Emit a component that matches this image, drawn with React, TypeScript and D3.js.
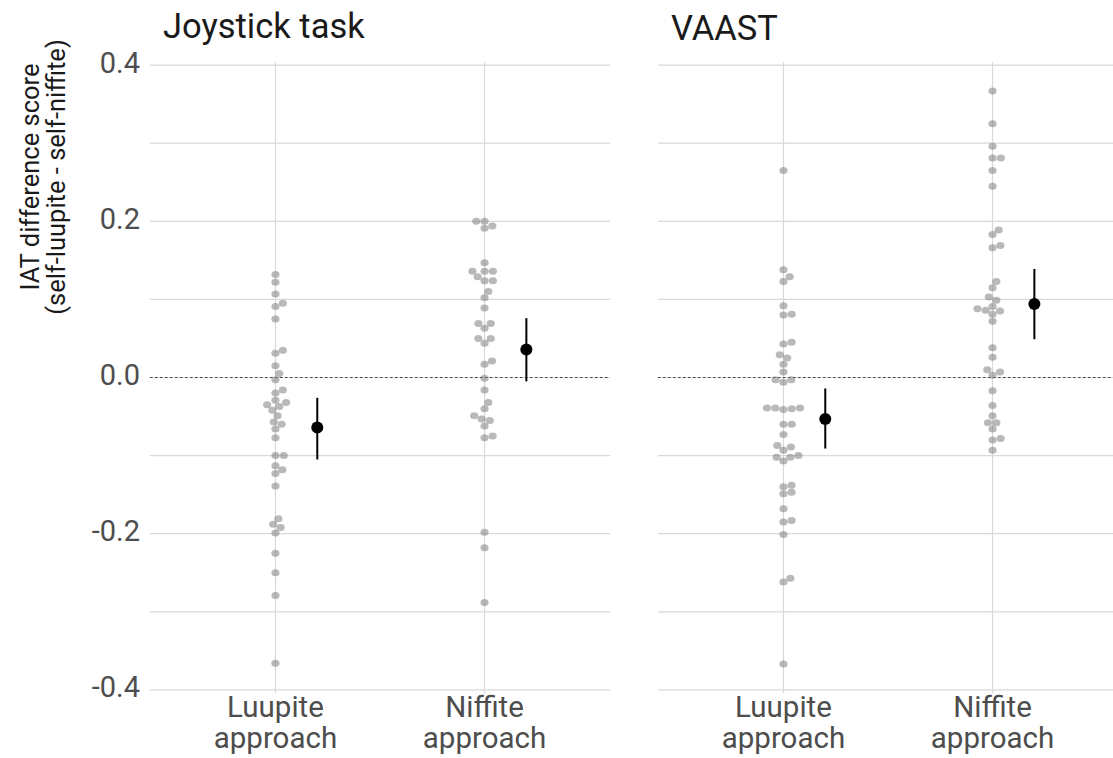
import React, { useEffect, useRef } from 'react'
import * as d3 from 'd3'

// categories / labels
const groups = ["Luupite approach", "Niffite approach"]
const panelTitles = ["Joystick task", "VAAST"]
const yTicks = [0.4, 0.2, 0.0, -0.2, -0.4]
const yMinorTicks = [0.3, 0.1, -0.1, -0.3]
const yTitle = ["IAT difference score", "(self-luupite - self-niffite)"]

// individual IAT scores
const joyLuupite = [0.132, 0.122, 0.107, 0.095, 0.091, 0.075, 0.035, 0.031, 0.015, 0.005, -0.003, -0.016, -0.020,
    -0.029, -0.032, -0.035, -0.037, -0.042, -0.049, -0.057, -0.060, -0.066, -0.077, -0.100, -0.100, -0.113, -0.118,
    -0.123, -0.139, -0.181, -0.188, -0.192, -0.199, -0.225, -0.250, -0.279, -0.366]
const joyNiffite = [0.200, 0.200, 0.194, 0.191, 0.147, 0.136, 0.136, 0.136, 0.129, 0.124, 0.124, 0.110, 0.102,
    0.089, 0.069, 0.069, 0.063, 0.050, 0.050, 0.044, 0.021, 0.017, -0.001, -0.016, -0.032, -0.040, -0.049, -0.053,
    -0.055, -0.062, -0.075, -0.077, -0.198, -0.218, -0.288]
const vaastLuupite = [0.265, 0.138, 0.129, 0.123, 0.092, 0.081, 0.080, 0.045, 0.043, 0.029, 0.025, 0.017, 0.007,
    -0.003, -0.003, -0.006, -0.039, -0.039, -0.039, -0.040, -0.041, -0.060, -0.060, -0.073, -0.087, -0.089, -0.093,
    -0.100, -0.102, -0.102, -0.107, -0.138, -0.140, -0.147, -0.149, -0.168, -0.183, -0.185, -0.201, -0.257, -0.262, -0.367]
const vaastNiffite = [0.367, 0.325, 0.296, 0.281, 0.281, 0.265, 0.245, 0.189, 0.183, 0.169, 0.166, 0.123, 0.115,
    0.103, 0.099, 0.091, 0.088, 0.086, 0.085, 0.081, 0.072, 0.038, 0.026, 0.010, 0.007, 0.003, -0.017, -0.036,
    -0.049, -0.058, -0.058, -0.066, -0.078, -0.080, -0.093]

// means and 95% CI
const joyMeans = [-0.064, 0.036]
const joyLower = [-0.105, -0.005]
const joyUpper = [-0.026, 0.076]
const vaastMeans = [-0.053, 0.094]
const vaastLower = [-0.091, 0.049]
const vaastUpper = [-0.014, 0.139]

const panels = [
    { title: panelTitles[0], points: [joyLuupite, joyNiffite], means: joyMeans, lower: joyLower, upper: joyUpper },
    { title: panelTitles[1], points: [vaastLuupite, vaastNiffite], means: vaastMeans, lower: vaastLower, upper: vaastUpper },
]

const W = 1113, H = 758
const panelLeft = [150, 658]
const panelWidth = 460
const font = "Roboto, 'Noto Sans', sans-serif"

// simple swarm: place points lowest first, as close to the centre as they fit
const swarm = (values: number[], y: (v: number) => number, dx: number, dy: number) => {
    const sorted = [...values].sort((a, b) => a - b)
    const placed: { v: number, px: number, py: number }[] = []
    for (const v of sorted) {
        const py = y(v)
        const cands = [0]
        for (const p of placed) {
            const d = Math.abs(p.py - py)
            if (d < dy) {
                const off = dx * Math.sqrt(1 - (d / dy) ** 2)
                cands.push(p.px + off, p.px - off)
            }
        }
        const ok = cands.filter(c => placed.every(p => {
            const a = (c - p.px) / dx, b = (py - p.py) / dy
            return a * a + b * b >= 0.999
        }))
        ok.sort((a, b) => Math.abs(a) - Math.abs(b) || b - a)
        placed.push({ v, px: ok[0], py })
    }
    return placed
}

const Chart = () => {
    const ref = useRef<SVGSVGElement>(null)

    useEffect(() => {
        const svg = d3.select(ref.current)
        svg.selectAll("*").remove()

        const y = d3.scaleLinear().domain([-0.404, 0.404]).range([693, 62])

        panels.forEach((panel, pi) => {
            const x0 = panelLeft[pi]
            const x = d3.scalePoint().domain(groups).range([x0, x0 + panelWidth]).padding(0.6)
            const step = x.step()
            const g = svg.append("g")

            // grid
            g.selectAll(".hgrid")
                .data([...yTicks, ...yMinorTicks])
                .join("line")
                .attr("x1", x0).attr("x2", x0 + panelWidth)
                .attr("y1", d => y(d)).attr("y2", d => y(d))
                .attr("stroke", "#d9d9d9").attr("stroke-width", 1.2)
            g.selectAll(".vgrid")
                .data(groups)
                .join("line")
                .attr("x1", d => x(d)!).attr("x2", d => x(d)!)
                .attr("y1", y.range()[1]).attr("y2", y.range()[0])
                .attr("stroke", "#d9d9d9").attr("stroke-width", 1.2)

            // zero reference
            g.append("line")
                .attr("x1", x0).attr("x2", x0 + panelWidth)
                .attr("y1", y(0)).attr("y2", y(0))
                .attr("stroke", "#333").attr("stroke-width", 0.9)
                .attr("stroke-dasharray", "2.5,2.5")

            // swarm points
            groups.forEach((grp, gi) => {
                const pts = swarm(panel.points[gi], y, 8.3, 7)
                g.append("g").selectAll("ellipse")
                    .data(pts)
                    .join("ellipse")
                    .attr("cx", d => x(grp)! + d.px)
                    .attr("cy", d => d.py)
                    .attr("rx", 4.1).attr("ry", 3.5)
                    .attr("fill", "#808080").attr("fill-opacity", 0.55)
            })

            // mean +- CI, nudged right
            groups.forEach((grp, gi) => {
                const cx = x(grp)! + step * 0.2
                g.append("line")
                    .attr("x1", cx).attr("x2", cx)
                    .attr("y1", y(panel.lower[gi])).attr("y2", y(panel.upper[gi]))
                    .attr("stroke", "black").attr("stroke-width", 2)
                g.append("circle")
                    .attr("cx", cx).attr("cy", y(panel.means[gi]))
                    .attr("r", 6).attr("fill", "black")
            })

            // title
            g.append("text")
                .attr("x", x0 + 13).attr("y", pi == 0 ? 38 : 40)
                .style("font-family", font).style("font-size", "34.5px")
                .attr("fill", "#1a1a1a")
                .text(panel.title)

            // x labels
            groups.forEach(grp => {
                const t = g.append("text")
                    .attr("text-anchor", "middle")
                    .style("font-family", font).style("font-size", "29.5px")
                    .attr("fill", "#4d4d4d")
                grp.split(" ").forEach((line, li) => {
                    t.append("tspan").attr("x", x(grp)!).attr("y", 717 + li * 31).text(line)
                })
            })

            // y tick labels on the first panel only
            if (pi == 0) {
                g.selectAll(".ytick")
                    .data(yTicks)
                    .join("text")
                    .attr("x", 140).attr("y", d => y(d) + 7.5)
                    .attr("text-anchor", "end")
                    .style("font-family", font).style("font-size", "29px")
                    .attr("fill", "#4d4d4d")
                    .text(d => d3.format(".1f")(d).replace("−", "-"))
            }
        })

        // y title
        const yt = svg.append("text")
            .attr("transform", "translate(39,177) rotate(-90)")
            .attr("text-anchor", "middle")
            .style("font-family", font).style("font-size", "25.5px")
            .attr("fill", "#1a1a1a")
        yTitle.forEach((line, li) => {
            yt.append("tspan").attr("x", 0).attr("y", li * 26).text(line)
        })
    }, [])

    return <svg ref={ref} width={W} height={H} style={{ position: "absolute", left: 0, top: 0, background: "white" }} />
}

export default function App() {
    return <Chart />
}
